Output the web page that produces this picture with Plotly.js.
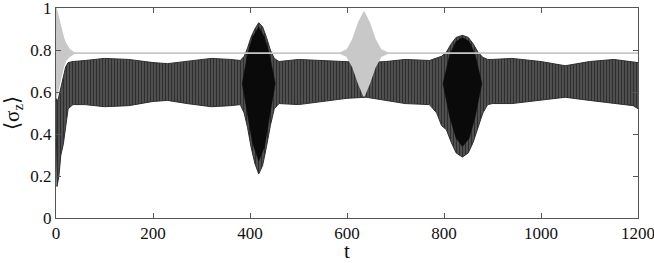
<!DOCTYPE html>
<html>
<head>
<meta charset="utf-8">
<script src="https://cdn.plot.ly/plotly-3.0.1.min.js"></script>
<style>
  html, body { margin: 0; padding: 0; background: #fff; }
  #chart { width: 654px; height: 263px; }
</style>
</head>
<body>
<div id="chart"></div>
<script>
// envelope of the fast black oscillation
let blackT = [0, 2, 6, 10, 15, 20, 25, 35, 60, 100, 150, 200, 230, 270, 320, 360, 380,
    388, 395, 402, 410, 418, 426, 434, 442, 450, 460,
    500, 550, 600, 640, 680, 720, 770, 785, 795,
    805, 815, 825, 838, 850, 860, 870, 880, 890, 900, 940, 1000, 1050, 1100, 1150, 1190, 1200];
let blackLo = [0.57, 0.15, 0.2, 0.3, 0.35, 0.45, 0.52, 0.54, 0.54, 0.53, 0.535, 0.555, 0.56, 0.545, 0.53, 0.535, 0.54,
    0.5, 0.43, 0.34, 0.26, 0.21, 0.25, 0.34, 0.44, 0.52, 0.545,
    0.54, 0.555, 0.57, 0.575, 0.56, 0.545, 0.54, 0.5, 0.44,
    0.42, 0.36, 0.31, 0.29, 0.31, 0.36, 0.43, 0.5, 0.54, 0.545, 0.545, 0.56, 0.575, 0.56, 0.545, 0.535, 0.52];
let blackHi = [0.57, 0.55, 0.58, 0.62, 0.68, 0.72, 0.74, 0.745, 0.75, 0.76, 0.755, 0.74, 0.735, 0.745, 0.76, 0.755, 0.75,
    0.77, 0.81, 0.86, 0.9, 0.93, 0.91, 0.86, 0.8, 0.76, 0.745,
    0.755, 0.75, 0.745, 0.74, 0.745, 0.755, 0.75, 0.76, 0.77,
    0.79, 0.83, 0.86, 0.87, 0.86, 0.83, 0.79, 0.765, 0.755, 0.755, 0.76, 0.745, 0.725, 0.745, 0.755, 0.745, 0.74];

// dense solid-black core of the two bursts
let burst1T = [384, 395, 405, 418, 430, 440, 452];
let burst1Lo = [0.64, 0.5, 0.36, 0.27, 0.34, 0.48, 0.64];
let burst1Hi = [0.64, 0.78, 0.86, 0.91, 0.86, 0.78, 0.64];
let burst2T = [798, 812, 825, 838, 852, 864, 878];
let burst2Lo = [0.64, 0.48, 0.38, 0.34, 0.38, 0.48, 0.64];
let burst2Hi = [0.64, 0.78, 0.84, 0.86, 0.84, 0.78, 0.64];

// envelope of the grey curve
let greyT = [0, 5, 10, 15, 20, 28, 38, 585, 600, 612, 624, 635, 646, 658, 670, 685, 1200];
let greyLo = [0.57, 0.62, 0.68, 0.72, 0.75, 0.77, 0.785, 0.785, 0.77, 0.72, 0.64, 0.58, 0.64, 0.72, 0.77, 0.785, 0.785];
let greyHi = [1.0, 0.95, 0.9, 0.86, 0.83, 0.8, 0.785, 0.785, 0.8, 0.85, 0.93, 0.98, 0.93, 0.85, 0.8, 0.785, 0.785];

let xTicks = [0, 200, 400, 600, 800, 1000, 1200];
let yTicks = [0, 0.2, 0.4, 0.6, 0.8, 1];

let bandCol = '#2e2e2e';
let burstCol = '#0a0a0a';
let greyCol = '#c8c8c8';

function band(t, lo, hi, col, w, pattern) {
    let upper = { x: t, y: hi, mode: 'lines', fill: 'tonexty', fillcolor: col, line: { color: col, width: w }, hoverinfo: 'skip' };
    if (pattern) upper.fillpattern = pattern;
    return [
        { x: t, y: lo, mode: 'lines', line: { color: col, width: w }, hoverinfo: 'skip' },
        upper,
    ];
}

// vertical stripes stand in for the unresolved fast oscillation
let stripes = { shape: '|', fgcolor: bandCol, bgcolor: '#9a9a9a', size: 3, solidity: 0.8 };

let data = [].concat(
    band(blackT, blackLo, blackHi, bandCol, 1, stripes),
    band(burst1T, burst1Lo, burst1Hi, burstCol, 0.5),
    band(burst2T, burst2Lo, burst2Hi, burstCol, 0.5),
    band(greyT, greyLo, greyHi, greyCol, 1.5)
);

let serif = 'Liberation Serif';
let axisFont = { family: serif, size: 17, color: '#111' };

let layout = {
    width: 654,
    height: 263,
    showlegend: false,
    margin: { l: 56, r: 16, t: 8, b: 45, pad: 0 },
    paper_bgcolor: '#fff',
    plot_bgcolor: '#fff',
    font: { family: serif },
    xaxis: {
        range: [0, 1200],
        tickvals: xTicks,
        ticks: 'inside',
        ticklen: 5,
        tickcolor: '#555',
        showline: true,
        linecolor: '#555',
        linewidth: 1,
        mirror: 'ticks',
        showgrid: false,
        zeroline: false,
        tickfont: axisFont,
        ticklabeloverflow: 'allow',
        title: { text: 't', font: { family: serif, size: 21, color: '#111' }, standoff: 6 },
    },
    yaxis: {
        range: [0, 1],
        tickvals: yTicks,
        ticks: 'inside',
        ticklen: 5,
        tickcolor: '#555',
        showline: true,
        linecolor: '#555',
        linewidth: 1,
        mirror: 'ticks',
        showgrid: false,
        zeroline: false,
        tickfont: axisFont,
        ticklabeloverflow: 'allow',
        title: { text: '⟨σ<sub>z</sub>⟩', font: { family: serif, size: 21, color: '#111' }, standoff: 6 },
    },
};

Plotly.newPlot('chart', data, layout, { staticPlot: true });
</script>
</body>
</html>
